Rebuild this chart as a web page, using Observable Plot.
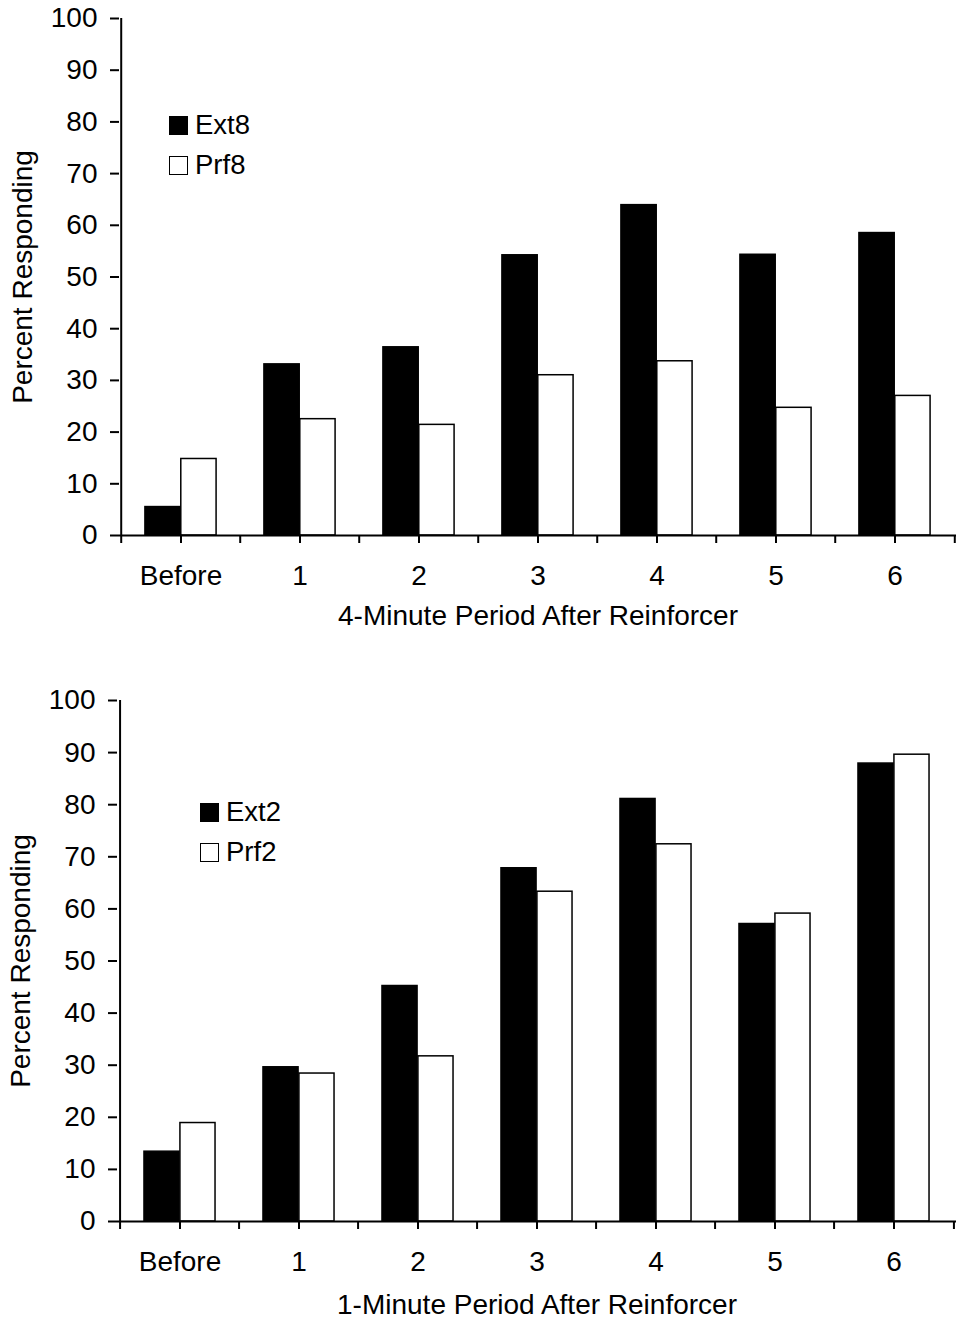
<!DOCTYPE html>
<html><head><meta charset="utf-8">
<script src="https://cdn.jsdelivr.net/npm/d3@7"></script>
<script src="https://cdn.jsdelivr.net/npm/@observablehq/plot@0.6"></script>
<style>
body{margin:0;background:#fff;font-family:"Liberation Sans",Arial,sans-serif;}
.panel{position:relative;width:956px;}
.panel svg{display:block;}
.legend{position:absolute;font-size:27.5px;color:#000;line-height:1;}
.legend .row{display:flex;align-items:center;height:40px;}
.legend .sw{width:19px;height:19px;border:1.5px solid #000;margin-right:7px;box-sizing:border-box;}
</style></head><body><div id="chart"></div>
<script>
// ---- data ----
const periods = ["Before", "1", "2", "3", "4", "5", "6"];
const yTicks = [0, 10, 20, 30, 40, 50, 60, 70, 80, 90, 100];
const seriesTop = ["Ext8", "Prf8"];
const ext8 = [5.5, 33.1, 36.4, 54.2, 63.9, 54.3, 58.5];
const prf8 = [14.8, 22.5, 21.4, 31.0, 33.7, 24.7, 27.0];
const seriesBottom = ["Ext2", "Prf2"];
const ext2 = [13.4, 29.6, 45.2, 67.8, 81.1, 57.1, 87.9];
const prf2 = [18.9, 28.4, 31.7, 63.3, 72.4, 59.1, 89.6];
const fills = ["#000", "#fff"];
const xTitleTop = "4-Minute Period After Reinforcer";
const xTitleBottom = "1-Minute Period After Reinforcer";
const yTitle = "Percent Responding";

const W = 956;

function panel({series, a, b, xLabel, height, marginTop, marginBottom, marginLeft, labelOffset, legendTop, legendLeft}) {
  const marginRight = 0;
  const rows = periods.flatMap((p, i) => [
    {period: p, series: series[0], value: a[i]},
    {period: p, series: series[1], value: b[i]}
  ]);
  const bw = (W - marginLeft - marginRight) / periods.length;
  const last = periods[periods.length - 1];
  const plot = Plot.plot({
    width: W, height, marginTop, marginBottom, marginLeft, marginRight,
    style: {fontFamily: "'Liberation Sans', Arial, sans-serif", fontSize: "28px", color: "#000", background: "#fff", overflow: "visible"},
    x: {domain: periods, padding: 0, label: null},
    y: {domain: [0, 100], label: null},
    color: {domain: series, range: fills},
    marks: [
      Plot.barY(rows.filter(d => d.series === series[0]), {x: "period", y: "value", fill: "series", stroke: "#000", strokeWidth: 1.5, insetLeft: 0.2 * bw, insetRight: 0.5 * bw}),
      Plot.barY(rows.filter(d => d.series === series[1]), {x: "period", y: "value", fill: "series", stroke: "#000", strokeWidth: 1.5, insetLeft: 0.5 * bw, insetRight: 0.2 * bw}),
      Plot.ruleY([0], {stroke: "#000", strokeWidth: 2}),
      Plot.ruleX([periods[0]], {x: d => d, dx: -bw / 2, stroke: "#000", strokeWidth: 2}),
      Plot.ruleX(periods, {x: d => d, dx: -bw / 2, y1: 0, y2: 0, insetBottom: -8, stroke: "#000", strokeWidth: 2}),
      Plot.ruleX([last], {x: d => d, dx: bw / 2, y1: 0, y2: 0, insetBottom: -8, stroke: "#000", strokeWidth: 2}),
      Plot.axisX({tickSize: 8, tickPadding: 22, strokeWidth: 2, label: xLabel, labelAnchor: "center", labelOffset, labelArrow: "none"}),
      Plot.axisY({ticks: yTicks, tickSize: 9, tickPadding: 13, strokeWidth: 2, label: yTitle, labelAnchor: "center", labelOffset: 107, labelArrow: "none"})
    ]
  });
  const wrap = document.createElement("div");
  wrap.className = "panel";
  wrap.appendChild(plot);
  const leg = d3.select(wrap).append("div").attr("class", "legend")
    .style("top", legendTop + "px").style("left", legendLeft + "px");
  const r = leg.selectAll("div.row").data(series).join("div").attr("class", "row");
  r.append("div").attr("class", "sw").style("background", (d, i) => fills[i]);
  r.append("span").text(d => d);
  return wrap;
}

const root = document.getElementById("chart");
root.appendChild(panel({series: seriesTop, a: ext8, b: prf8, xLabel: xTitleTop, height: 680, marginTop: 18, marginBottom: 145, marginLeft: 119, labelOffset: 89, legendTop: 105, legendLeft: 169}));
root.appendChild(panel({series: seriesBottom, a: ext2, b: prf2, xLabel: xTitleBottom, height: 640, marginTop: 20, marginBottom: 99, marginLeft: 117, labelOffset: 92, legendTop: 112, legendLeft: 200}));
</script></body></html>
